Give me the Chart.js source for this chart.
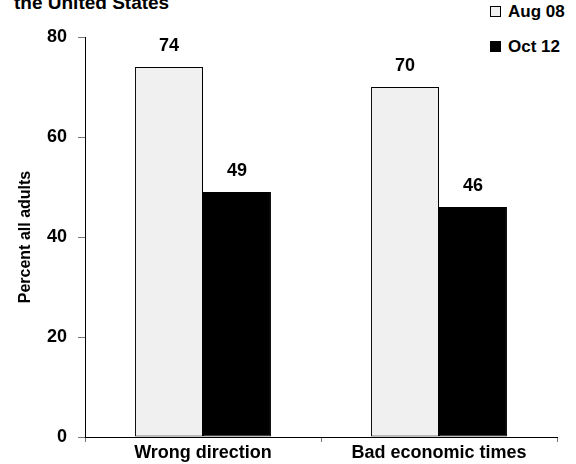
<!DOCTYPE html>
<html>
<head>
<meta charset="utf-8">
<script src="https://cdn.jsdelivr.net/npm/chart.js@4/dist/chart.umd.min.js"></script>
<style>
body{margin:0;background:#fff;}
#wrap{position:relative;width:576px;height:464px;overflow:hidden;font-family:"Liberation Sans",Arial,sans-serif;}
#title{position:absolute;left:14px;top:-8px;font-weight:bold;font-size:19px;color:#000;white-space:nowrap;}
#legend{position:absolute;left:490px;top:2px;font-weight:bold;font-size:17px;color:#000;}
#legend div{height:20px;line-height:20px;margin-bottom:15px;white-space:nowrap;}
#legend span.box{display:inline-block;width:9px;height:9px;border:1px solid #000;margin-right:7px;vertical-align:0px;}
canvas{position:absolute;left:0;top:0;}
</style>
</head>
<body>
<div id="wrap">
<div id="title">the United States</div>
<div id="legend"></div>
<canvas id="chart" width="576" height="464"></canvas>
</div>
<script>
const categories=['Wrong direction','Bad economic times'];
const seriesNames=['Aug 08','Oct 12'];
const aug08=[74,70];
const oct12=[49,46];
const barColors=['#f0f0f0','#000000'];
const fontFam='"Liberation Sans", Arial, sans-serif';

// value labels above bars
const valueLabels={
    id:'valueLabels',
    afterDatasetsDraw(chart){
        const ctx=chart.ctx;
        ctx.save();
        ctx.font='bold 18px '+fontFam;
        ctx.fillStyle='#000';
        ctx.textAlign='center';
        ctx.textBaseline='middle';
        chart.data.datasets.forEach((ds,i)=>{
            chart.getDatasetMeta(i).data.forEach((bar,j)=>{
                ctx.fillText(ds.data[j],bar.x,bar.y-21);
            });
        });
        ctx.restore();
    }
};

const ctx=document.getElementById('chart').getContext('2d');
const chart=new Chart(ctx,{
    type:'bar',
    data:{
        labels:categories,
        datasets:[
            {label:seriesNames[0],data:aug08,backgroundColor:barColors[0],borderColor:'#000',borderWidth:1,borderSkipped:false},
            {label:seriesNames[1],data:oct12,backgroundColor:barColors[1],borderColor:'#000',borderWidth:1,borderSkipped:false}
        ]
    },
    options:{
        responsive:false,
        animation:false,
        layout:{padding:{top:37,right:19,left:0,bottom:0}},
        plugins:{legend:{display:false},tooltip:{enabled:false}},
        datasets:{bar:{categoryPercentage:0.576,barPercentage:1}},
        scales:{
            x:{
                grid:{offset:true,drawOnChartArea:false,tickLength:5,color:'#777'},
                border:{color:'#000',width:1},
                ticks:{color:'#000',font:{family:fontFam,size:18,weight:'bold'},padding:0},
                afterFit(scale){scale.height=27;}
            },
            y:{
                min:0,max:80,
                ticks:{stepSize:20,color:'#000',font:{family:fontFam,size:18,weight:'bold'},padding:11},
                grid:{drawOnChartArea:false,tickLength:7,color:'#777'},
                border:{color:'#000',width:1},
                title:{display:true,text:'Percent all adults',color:'#000',font:{family:fontFam,size:16,weight:'bold'},padding:{top:16,bottom:0}},
                afterFit(scale){scale.width=85;}
            }
        }
    },
    plugins:[valueLabels]
});

// html legend
const legend=document.getElementById('legend');
seriesNames.forEach((name,i)=>{
    const row=document.createElement('div');
    row.innerHTML=`<span class="box" style="background:${barColors[i]}"></span>${name}`;
    legend.appendChild(row);
});
</script>
</body>
</html>
